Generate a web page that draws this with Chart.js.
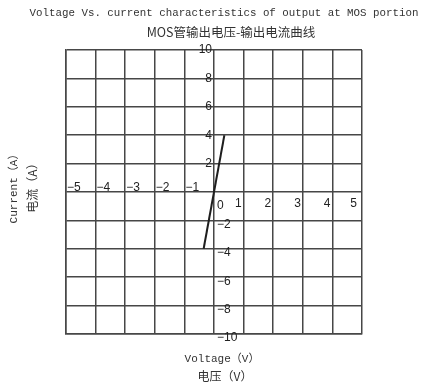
<!DOCTYPE html>
<html>
<head>
<meta charset="utf-8">
<script src="https://cdn.jsdelivr.net/npm/chart.js@4"></script>
<style>
	html, body { margin: 0; padding: 0; background: #fff; }
	#wrap { width: 422px; height: 383px; }
</style>
</head>
<body>
<div id="wrap"><canvas id="ivChart" width="422" height="383"></canvas></div>
<script>
const voltage = [-0.35, 0, 0.35];
const current = [-4, 0, 4];
const xTicks = [-5, -4, -3, -2, -1, 0, 1, 2, 3, 4, 5];
const yTicks = [-10, -8, -6, -4, -2, 0, 2, 4, 6, 8, 10];

const titleLines = ['Voltage Vs. current characteristics of output at MOS portion', 'MOS管输出电压-输出电流曲线'];
const xTitles = ['Voltage（V）', '电压（V）'];
const yTitles = ['Current（A）', '电流（A）'];

const gridColor = '#474747';
const minus = function(v) { return v < 0 ? '\u2212' + Math.abs(v) : String(v); };

// tick labels sit on the centre axes, titles around the plot
const labelPlugin = {
	id: 'labels',
	afterDraw(chart) {
		const ctx = chart.ctx;
		const xs = chart.scales.x, ys = chart.scales.y;
		const x0 = xs.getPixelForValue(0), y0 = ys.getPixelForValue(0);
		ctx.save();
		ctx.fillStyle = '#222';
		ctx.font = '12px "Liberation Sans", Arial, sans-serif';

		xTicks.forEach(function(v) {
			const px = xs.getPixelForValue(v);
			if (v < 0) {
				ctx.textAlign = 'left'; ctx.textBaseline = 'alphabetic';
				ctx.fillText(minus(v), px + 1, y0 - 1);
			} else if (v > 0) {
				ctx.textAlign = 'right'; ctx.textBaseline = 'top';
				ctx.fillText(minus(v), px - (v === 5 ? 5 : 2), y0 + 6);
			} else {
				ctx.textAlign = 'left'; ctx.textBaseline = 'top';
				ctx.fillText('0', x0 + 3, y0 + 8);
			}
		});
		yTicks.forEach(function(v) {
			if (v === 0) return;
			const py = ys.getPixelForValue(v);
			ctx.textBaseline = 'middle';
			if (v > 0) {
				ctx.textAlign = 'right';
				ctx.fillText(minus(v), x0 - 2, py);
			} else {
				ctx.textAlign = 'left';
				ctx.fillText(minus(v), x0 + 3, py + 4);
			}
		});

		ctx.fillStyle = '#333';
		ctx.textAlign = 'center';
		ctx.textBaseline = 'middle';
		ctx.font = '10.8px "Liberation Mono", monospace';
		ctx.fillText(titleLines[0], 224, 13);
		ctx.font = '12.5px "Noto Sans CJK SC", sans-serif';
		ctx.fillText(titleLines[1], 231, 32);

		ctx.font = '11px "Liberation Mono", "Noto Sans CJK SC", monospace';
		ctx.fillText(xTitles[0], 222, 359);
		ctx.font = '12px "Noto Sans CJK SC", sans-serif';
		ctx.fillText(xTitles[1], 225, 376);

		ctx.save();
		ctx.translate(14, 186);
		ctx.rotate(-Math.PI / 2);
		ctx.font = '11px "Liberation Mono", "Noto Sans CJK SC", monospace';
		ctx.fillText(yTitles[0], 0, 0);
		ctx.restore();
		ctx.save();
		ctx.translate(32, 185);
		ctx.rotate(-Math.PI / 2);
		ctx.font = '12px "Noto Sans CJK SC", sans-serif';
		ctx.fillText(yTitles[1], 0, 0);
		ctx.restore();
		ctx.restore();
	}
};

const ctx = document.getElementById('ivChart').getContext('2d');
const ivChart = new Chart(ctx, {
	type: 'scatter',
	data: {
		datasets: [{
			data: voltage.map(function(v, i) { return { x: v, y: current[i] }; }),
			showLine: true,
			borderColor: '#1e1e1e',
			borderWidth: 2,
			pointRadius: 0,
			tension: 0,
		}],
	},
	options: {
		responsive: false,
		animation: false,
		layout: { padding: { left: 66, right: 60, top: 50, bottom: 49 } },
		plugins: {
			legend: { display: false },
			tooltip: { enabled: false },
		},
		scales: {
			x: {
				type: 'linear', min: -5, max: 5,
				ticks: { display: false, stepSize: 1 },
				grid: { color: gridColor, lineWidth: 1.5, drawTicks: false },
				border: { color: gridColor, width: 1.5 },
			},
			y: {
				type: 'linear', min: -10, max: 10,
				ticks: { display: false, stepSize: 2 },
				grid: { color: gridColor, lineWidth: 1.5, drawTicks: false },
				border: { color: gridColor, width: 1.5 },
			}
		}
	},
	plugins: [labelPlugin],
});
</script>
</body>
</html>
